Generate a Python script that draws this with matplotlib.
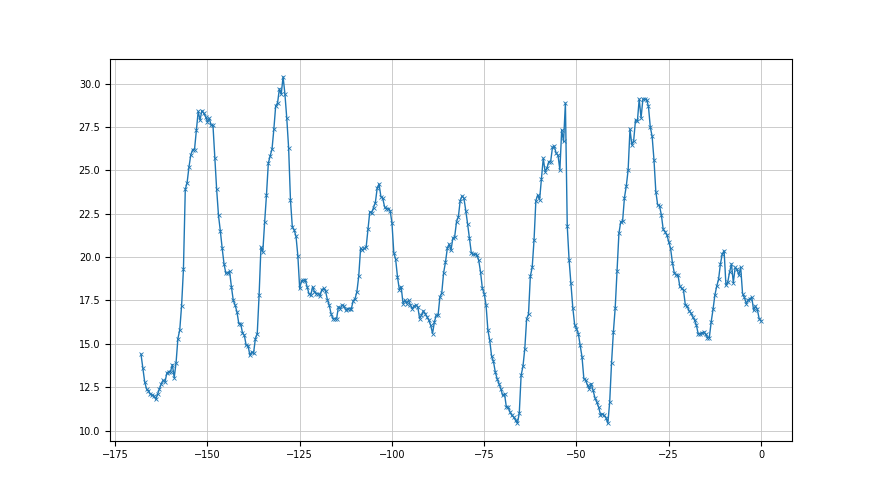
import numpy as np
import matplotlib.pyplot as plt

# half-hourly readings, last 168 hours (x = hours before now)
day1 = [14.4, 13.6, 12.8, 12.4, 12.3, 12.1, 12.05, 12.0, 11.8, 12.1,
        12.4, 12.7, 12.9, 12.8, 13.3, 13.4, 13.4, 13.8, 13.05, 13.9,
        15.3, 15.8, 17.2, 19.3, 23.9, 24.3, 25.2, 25.9, 26.2, 26.2,
        27.3, 28.4, 27.9, 28.45, 28.3, 28.1, 27.8, 28.0, 27.6, 27.6,
        25.7, 23.9, 22.4, 21.5]
day2 = [20.5, 19.6, 19.06, 19.1, 19.17, 18.29, 17.51, 17.23, 16.84, 16.17,
        16.17, 15.63, 15.49, 14.91, 14.9, 14.34, 14.53, 14.47, 15.3, 15.59,
        17.8, 20.56, 20.3, 22.0, 23.58, 25.41, 25.84, 26.22, 27.38, 28.73,
        28.88, 29.7, 29.4, 30.4, 29.4, 28.0, 26.3, 23.3, 21.75, 21.56,
        21.2, 20.08, 18.19]
day3 = [18.63, 18.65, 18.7, 18.29, 17.9, 17.8, 18.29, 18.0, 17.9, 17.9,
        17.75, 18.13, 18.19, 18.05, 17.55, 17.23, 16.74, 16.45, 16.45, 16.45,
        17.13, 17.03, 17.23, 17.17, 16.94, 17.03, 17.03, 17.03, 17.48, 17.6,
        18.0, 18.9, 20.5, 20.4, 20.5, 20.56, 21.6, 22.62]
day4 = [22.56, 22.85, 23.14, 23.97, 24.22, 23.49, 23.39, 22.9, 22.8, 22.8,
        22.68, 21.98, 20.25, 19.87, 18.86, 18.13, 18.29, 17.32, 17.51, 17.32,
        17.51, 17.23, 17.03, 17.17, 17.23, 17.13, 16.45, 16.65, 16.9, 16.74,
        16.55, 16.36, 16.07, 15.59, 16.26, 16.65, 16.65, 17.71, 17.94, 19.1,
        19.7, 20.5, 20.75, 20.4, 21.08, 21.18, 22.04]
day5 = [22.33, 23.26, 23.53, 23.39, 22.68, 21.91, 21.08, 20.25, 20.15, 20.17,
        20.12, 19.83, 19.15, 18.19, 17.9, 17.23, 15.78, 15.2, 14.28, 13.99,
        13.37, 12.99, 12.7, 12.41, 12.02, 12.12, 11.35, 11.35, 11.06, 10.87,
        10.77, 10.58, 10.42, 11.0, 13.18, 13.7, 14.72, 16.45, 16.7, 18.9,
        19.4, 20.98, 23.26, 23.58]
day6 = [23.3, 24.5, 25.7, 24.93, 25.13, 25.5, 25.5, 26.34, 26.38, 25.99,
        25.86, 25.03, 27.34, 26.67, 28.88, 21.79, 19.83, 18.48, 17.09, 16.11,
        15.88, 15.59, 14.91, 14.24, 12.99, 12.89, 12.6, 12.41, 12.7, 12.31,
        11.89, 11.64, 11.35, 10.92, 10.95, 10.87, 10.73, 10.42, 11.64, 13.89,
        15.68, 17.09, 19.21, 21.37]
day7 = [22.04, 22.08, 23.43, 24.1, 25.03, 27.38, 26.47, 26.72, 27.92, 27.82,
        29.11, 28.02, 29.11, 29.11, 29.08, 28.69, 27.5, 26.96, 25.61, 23.78,
        23.01, 22.95, 22.43, 21.6, 21.46, 21.27, 20.89, 20.5, 19.67, 19.09,
        18.96, 18.96, 18.32, 18.19, 18.09, 17.23, 17.17, 16.9, 16.78, 16.55,
        16.36, 16.07, 15.55, 15.59]
day8 = [15.63, 15.68, 15.55, 15.36, 15.36, 16.26, 16.98, 17.8, 18.32, 18.71,
        19.6, 20.17, 20.37, 18.38, 18.57, 19.15, 19.6, 18.52, 19.4, 19.29,
        18.96, 19.4, 17.9, 17.67, 17.32, 17.51, 17.61, 17.67, 16.94, 17.17,
        16.98, 16.45, 16.32]

temps = day1 + day2 + day3 + day4 + day5 + day6 + day7 + day8
hours = np.arange(-168, 0.5, 0.5)

plt.rcParams['font.size'] = 7
fig = plt.figure(figsize=(8.8, 4.95), dpi=100)
plt.plot(hours, temps, marker='x', markersize=3.5, markeredgewidth=0.6, linewidth=1.0)
plt.grid(color='#c4c4c4', linewidth=0.6)
plt.savefig('out.png')
